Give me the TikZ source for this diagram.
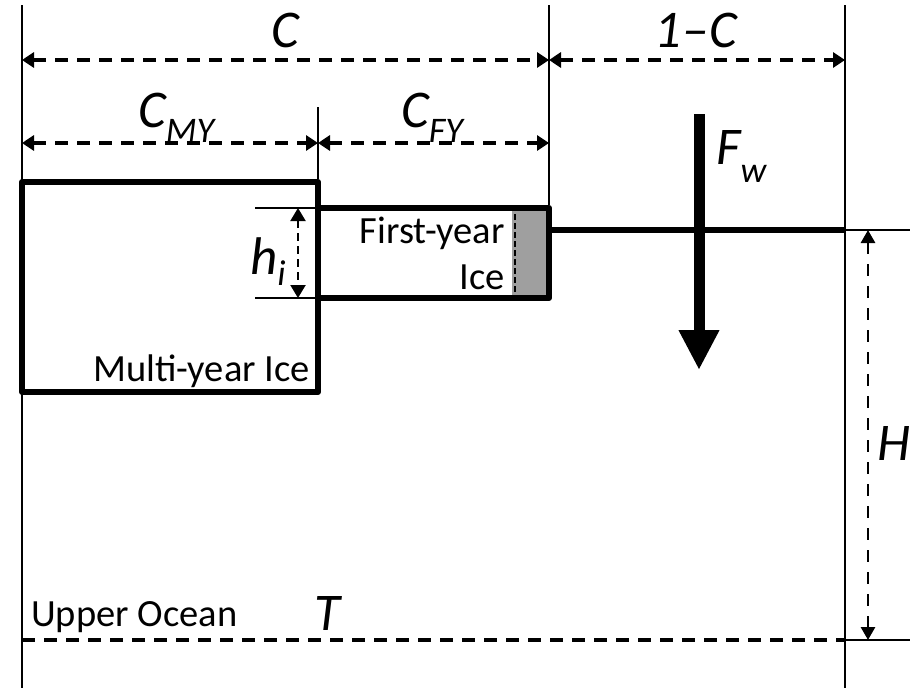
\documentclass[tikz,border=0pt]{standalone}
\usepackage{fontspec}
\setmainfont{Carlito}
\usetikzlibrary{arrows.meta}
\newcommand{\bigf}{\fontsize{53}{53}\selectfont\itshape}
\newcommand{\subf}{\fontsize{36}{36}\selectfont\itshape}
\newcommand{\smallf}{\fontsize{38.5}{46}\selectfont}
\tikzset{
  guide/.style={line width=2.5pt},
  icebox/.style={draw, line width=6pt, inner sep=0pt, line join=round},
  dimarrow/.style={line width=3.5pt, dash pattern=on 13pt off 9pt,
    {Triangle[length=12pt,width=15pt]}-{Triangle[length=12pt,width=15pt]}},
  thindim/.style={line width=2.8pt, dash pattern=on 12pt off 10pt,
    {Triangle[length=13pt,width=14pt]}-{Triangle[length=13pt,width=14pt]}},
  hidim/.style={line width=2.2pt, dash pattern=on 8pt off 5pt,
    {Triangle[length=13pt,width=15pt]}-{Triangle[length=13pt,width=15pt]}},
  lab/.style={inner sep=0pt, anchor=base west},
}
\begin{document}
\begin{tikzpicture}[x=1pt,y=-1pt]
\useasboundingbox (0,0) rectangle (910,688);
% key coordinates
\coordinate (Ltop) at (22,5);
\coordinate (Lbot) at (22,688);
\coordinate (Mtop) at (549,5);
\coordinate (Rtop) at (845,5);
\coordinate (Rbot) at (845,688);
\coordinate (Dtop) at (318,107);
% ice boxes
\fill[gray!75] (512,208) rectangle (549,298);
\node[icebox, minimum width=296pt, minimum height=210pt] (my) at (170,287) {};
\node[icebox, minimum width=231pt, minimum height=90pt] (fy) at (433.5,253) {};
\draw[line width=2pt, dash pattern=on 6pt off 3pt] (fy.north east) ++(-37,0) coordinate (gs) -- (gs |- fy.south) coordinate (gb);
% vertical guides
\draw[guide] (Ltop) -- (Lbot);
\draw[guide] (Mtop) -- (Mtop |- fy.north);
\draw[guide] (Rtop) -- (Rbot);
\draw[guide] (Dtop) -- (Dtop |- my.north);
% top dimensions
\coordinate (c1a) at (22,60); \coordinate (c1b) at (549,60); \coordinate (c1c) at (845,60);
\draw[dimarrow] (c1a) -- (c1b);
\draw[dimarrow] (c1b) -- (c1c);
\coordinate (c2a) at (22,143); \coordinate (c2b) at (318,143); \coordinate (c2c) at (549,143);
\draw[dimarrow] (c2a) -- (c2b);
\draw[dimarrow] (c2b) -- (c2c);
\node[inner sep=0pt, anchor=base] (lC) at (285,47) {\bigf C};
\node[inner sep=0pt, anchor=base] (l1C) at (696,47) {\bigf 1\kern1pt\textendash\kern1pt C};
\node[lab] (lCmy) at (138,127) {\bigf C\raisebox{-15pt}{\subf MY}};
\node[lab] (lCfy) at (401,127) {\bigf C\raisebox{-15pt}{\subf FY}};
% water line
\coordinate (wl) at (549,230);
\coordinate (wr) at (845,230);
\coordinate (we) at (910,230);
\draw[line width=6pt] (wl) -- (wr);
\draw[line width=2pt] (wr) -- (we);
% h_i
\coordinate (ht1) at (255,208); \coordinate (ht2) at (255,298);
\draw[line width=2pt] (ht1) -- (ht1 -| my.east);
\draw[line width=2pt] (ht2) -- (ht2 -| my.east);
\coordinate (ha) at (298,208); \coordinate (hb) at (298,298);
\draw[hidim] (ha) -- (hb);
\node[lab] (lhi) at (250,274) {\bigf h\raisebox{-11pt}{\subf i}};
% texts
\node[inner sep=0pt, anchor=base east] (tfy1) at (505,243) {\smallf First-year};
\node[inner sep=0pt, anchor=base east] (tfy2) at (505,289) {\smallf Ice};
\node[inner sep=0pt, anchor=base east] (tmy) at (310,381) {\smallf Multi-year Ice};
\node[lab] (tuo) at (31,626) {\smallf Upper Ocean};
\node[lab] (lT) at (314,630) {\bigf T};
% F_w
\coordinate (fa) at (699,114);
\coordinate (fb) at (699,370);
\draw[line width=11pt, -{Triangle[length=40pt,width=38pt]}] (fa) -- (fb);
\node[lab] (lFw) at (716,164) {\bigf F\raisebox{-18pt}{\subf w}};
% H
\coordinate (Ha) at (868,230); \coordinate (Hb) at (868,640);
\draw[thindim] (Ha) -- (Hb);
\node[lab] (lH) at (877,460) {\bigf H};
% bottom
\coordinate (ba) at (22,640); \coordinate (bb) at (845,640); \coordinate (bc) at (910,640);
\draw[line width=3.5pt, dash pattern=on 13pt off 9pt] (ba) -- (bb);
\draw[line width=2pt] (bb) -- (bc);
\end{tikzpicture}
\end{document}
